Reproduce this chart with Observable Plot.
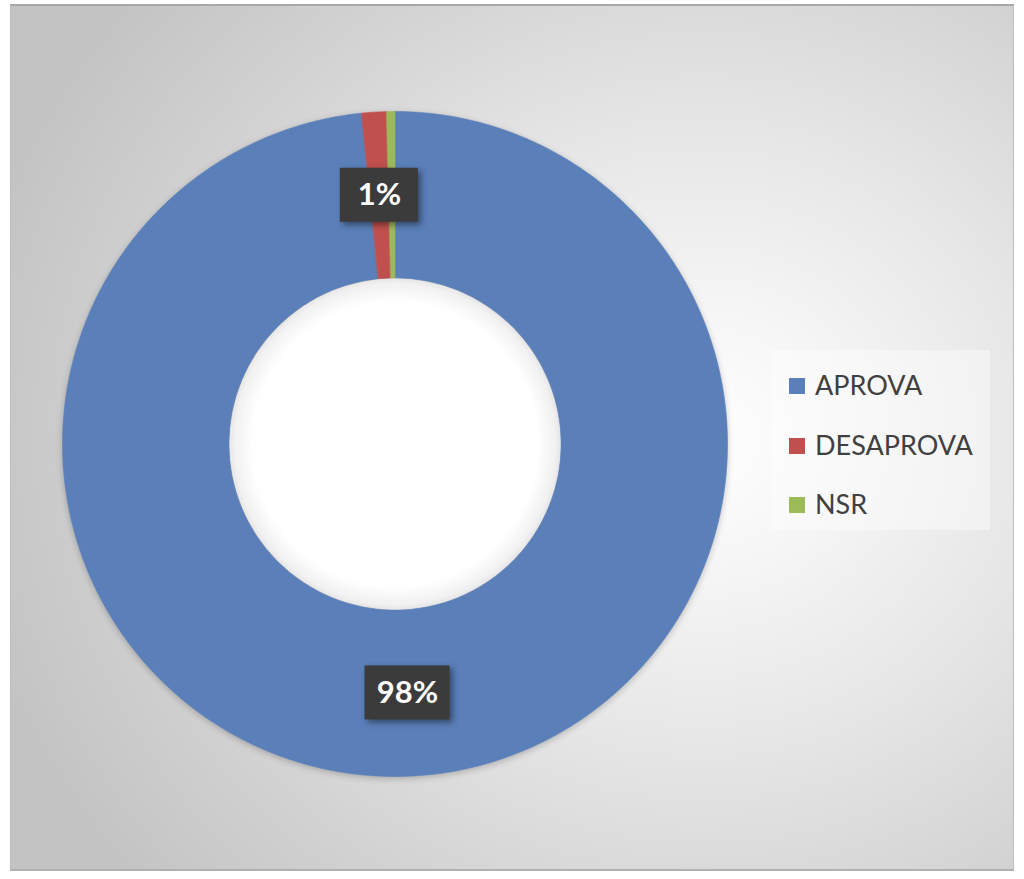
<!DOCTYPE html>
<html><head><meta charset="utf-8">
<script src="https://cdn.jsdelivr.net/npm/d3@7"></script>
<script src="https://cdn.jsdelivr.net/npm/@observablehq/plot@0.6"></script>
<style>
html,body{margin:0;padding:0;background:#fff;}
body{width:1024px;height:879px;position:relative;overflow:hidden;font-family:Lato,"Open Sans",sans-serif;}
#frame{position:absolute;left:10px;top:4px;width:1002px;height:863px;border:1px solid #bdbdbd;border-top:2px solid #a8a8a8;border-bottom:2px solid #b0b0b0;
  background:radial-gradient(ellipse 75% 80% at 69% 50%, #ffffff 0%, #f6f6f6 18%, #e6e6e6 45%, #d2d2d2 75%, #c3c3c3 100%);}
#chart{position:absolute;left:0;top:0;}
#legend{position:absolute;left:772px;top:350px;width:218px;height:180px;background:rgba(255,255,255,0.4);}
.item{position:absolute;left:17px;font-size:27px;color:#404040;line-height:30px;white-space:nowrap;}
.sw{display:inline-block;width:16px;height:16px;margin-right:10px;vertical-align:middle;position:relative;top:-2px;}
</style></head>
<body>
<div id="frame"></div>
<div id="chart"></div>
<div id="legend"></div>
<script>
const categories = ["APROVA", "DESAPROVA", "NSR"];
const values = [98.4, 1.2, 0.4];
const colors = ["#5A7FB9", "#C0504D", "#9BBB59"];
const labels = ["98%", "1%", ""];

const cx = 394.5, cy = 443.5, W = 1024, H = 879;
const rOuter = 332.5, rInner = 166;

const pie = d3.pie().sort(null).value(d => d.value)(categories.map((c, i) => ({cat: c, value: values[i], label: labels[i]})));

const rows = [];
for (const s of pie) {
  const n = Math.max(8, Math.ceil((s.endAngle - s.startAngle) * 120));
  for (let k = 0; k <= n; k++) {
    const a = s.startAngle + (s.endAngle - s.startAngle) * k / n;
    rows.push({cat: s.data.cat, x: rOuter * Math.sin(a), y: rOuter * Math.cos(a)});
  }
  for (let k = n; k >= 0; k--) {
    const a = s.startAngle + (s.endAngle - s.startAngle) * k / n;
    rows.push({cat: s.data.cat, x: rInner * Math.sin(a), y: rInner * Math.cos(a)});
  }
}

const rMid = (rOuter + rInner) / 2;
const labelRows = pie.filter(s => s.data.label).map(s => {
  const m = (s.startAngle + s.endAngle) / 2;
  const w = 64 + 7 * s.data.label.length;
  const x = rMid * Math.sin(m), y = rMid * Math.cos(m);
  return {label: s.data.label, x, y, x1: x - w / 2, x2: x + w / 2, y1: y - 27, y2: y + 27};
});

const chart = Plot.plot({
  width: W, height: H, margin: 0,
  x: {domain: [-cx, W - cx], axis: null},
  y: {domain: [-(H - cy), cy], axis: null},
  color: {domain: categories, range: colors},
  style: {background: "transparent", overflow: "visible"},
  marks: [
    Plot.line(rows, {x: "x", y: "y", z: "cat", fill: "cat", stroke: "cat", strokeWidth: 0.6, curve: "linear-closed",
      imageFilter: "drop-shadow(0px 2px 3px rgba(0,0,0,0.22))"}),
    Plot.dot([0], {x: () => 0, y: () => 0, r: rInner - 0.5, fill: "url(#holeGrad)", stroke: "none"}),
    Plot.rect(labelRows, {x1: "x1", x2: "x2", y1: "y1", y2: "y2", fill: "#3b3b3b",
      imageFilter: "drop-shadow(3px 3px 3px rgba(0,0,0,0.45))"}),
    Plot.text(labelRows, {x: "x", y: "y", text: "label", fill: "white", fontSize: 31, fontWeight: "bold",
      fontFamily: "Lato, 'Open Sans', sans-serif"})
  ]
});
chart.insertAdjacentHTML("afterbegin",
  `<defs><radialGradient id="holeGrad" cx="0.5" cy="0.5" r="0.5">
     <stop offset="0" stop-color="#ffffff"/><stop offset="0.86" stop-color="#ffffff"/>
     <stop offset="0.97" stop-color="#f1f1f1"/><stop offset="1" stop-color="#e6e6e6"/>
   </radialGradient></defs>`);
document.getElementById("chart").appendChild(chart);

const legend = document.getElementById("legend");
const tops = [20, 80, 139];
categories.forEach((c, i) => {
  const d = document.createElement("div");
  d.className = "item";
  d.style.top = tops[i] + "px";
  d.innerHTML = `<span class="sw" style="background:${colors[i]}"></span>${c}`;
  legend.appendChild(d);
});
</script>
</body></html>
